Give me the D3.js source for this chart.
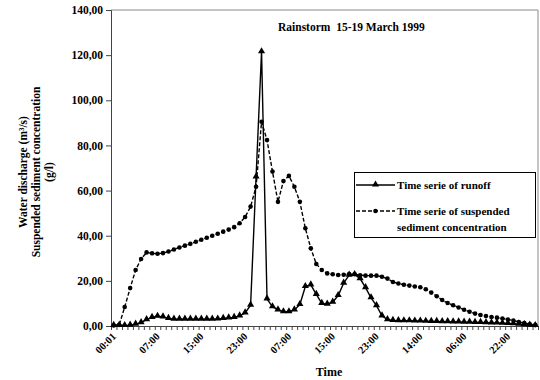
<!DOCTYPE html>
<html>
<head>
<meta charset="utf-8">
<script src="https://cdn.jsdelivr.net/npm/d3@7"></script>
<style>
  body { margin: 0; background: #fff; }
  svg text { font-family: "Liberation Serif", "Times New Roman", serif; font-weight: bold; fill: #000; }
</style>
</head>
<body>
<div id="chart"></div>
<script>
// chart size
var width = 540,
    height = 380;

var margin = {left: 111, top: 10, right: 2, bottom: 54};

// time of each sample (hourly, then every 2 hours)
var times = ["00:01","00:00","01:00","02:00","03:00","04:00","05:00","06:00","07:00","08:00",
  "09:00","10:00","11:00","12:00","13:00","14:00","15:00","16:00","17:00","18:00",
  "19:00","20:00","21:00","22:00","23:00","00:00","01:00","02:00","03:00","04:00",
  "05:00","06:00","07:00","08:00","09:00","10:00","11:00","12:00","13:00","14:00",
  "15:00","16:00","17:00","18:00","19:00","20:00","21:00","22:00","23:00","00:00",
  "02:00","04:00","06:00","08:00","10:00","12:00","14:00","16:00","18:00","20:00",
  "22:00","00:00","02:00","04:00","06:00","08:00","10:00","12:00","14:00","16:00",
  "18:00","20:00","22:00","00:00","02:00","04:00","06:00","08:00"];

// runoff, m3/s
var runoff = [0.3,0.3,0.2,0.4,0.8,1.5,2.8,3.8,4.3,4.0,
  3.4,3.0,3.0,3.0,3.0,3.0,3.0,3.0,3.0,3.1,
  3.4,3.6,3.8,4.5,5.8,9.2,66,121.5,12,8.5,
  7.1,6.3,6.3,7.1,9.5,17.5,18.2,14,10,9.7,
  10.6,13.5,19,22.5,22.8,21,17,12.5,9,4.5,
  2.8,2.5,2.4,2.3,2.3,2.2,2.2,2.1,2.0,2.0,
  1.9,1.9,1.8,1.8,1.7,1.7,1.6,1.6,1.5,1.4,
  1.3,1.2,1.1,1.0,0.8,0.6,0.4,0.2];

// suspended sediment concentration, g/l
var sediment = [0.2,0.5,8.4,16.8,24.8,29.7,32.6,32.2,32.0,32.3,
  33.0,33.9,34.8,35.6,36.4,37.3,38.2,39.1,40.0,40.9,
  41.8,42.7,43.8,45.5,48.3,52.9,61.7,90.5,82.4,68.4,
  55,64.2,66.5,61.7,55,43.3,34.4,27.5,24.8,23.3,
  22.9,22.6,22.7,23.0,22.9,22.5,22.3,22.3,22.3,21.8,
  21.0,19.5,18.8,18.3,17.9,17.5,17.2,16.3,14.8,13.2,
  11.5,10.2,9.2,8.2,7.2,6.3,5.5,4.9,4.4,4.0,
  3.7,3.3,2.9,2.4,1.8,1.3,0.8,0.4];

var yTicks = [0,20,40,60,80,100,120,140];
var labelEvery = 8;

var titleText = "Rainstorm  15-19 March 1999";
var yTitle = ["Water discharge (m³/s)", "Suspended sediment concentration", "(g/l)"];
var legendNames = ["Time serie of runoff", ["Time serie of suspended", "sediment concentration"]];

var svg = d3.select("#chart").append("svg")
  .attr("width", width)
  .attr("height", height);

var x0 = margin.left,
    x1 = width - margin.right,
    y0 = height - margin.bottom,
    y1 = margin.top;

var x = d3.scalePoint()
  .domain(d3.range(times.length))
  .range([x0, x1])
  .padding(0.5);

// category boundaries for the tick marks
var xEdge = d3.scaleLinear()
  .domain([0, times.length])
  .range([x0, x1]);

var y = d3.scaleLinear()
  .domain([0, 140])
  .range([y0, y1]);

var fmt = function(v) { return d3.format(".2f")(v).replace(".", ","); };

// plot area border (top / right)
svg.append("path")
  .attr("d", "M" + x0 + "," + y1 + "H" + x1 + "V" + y0)
  .attr("fill", "none")
  .attr("stroke", "#8a8a8a")
  .attr("stroke-width", 1);

// y axis
var yAxis = svg.append("g")
  .attr("transform", "translate(" + x0 + ",0)")
  .call(d3.axisLeft(y).tickValues(yTicks).tickFormat(fmt).tickSize(5).tickPadding(3));
yAxis.select(".domain").attr("stroke", "#444");
yAxis.selectAll(".tick line").attr("stroke", "#444");
yAxis.selectAll("text")
  .style("font-size", "11.5px")
  .style("font-family", "'Liberation Serif', serif")
  .style("font-weight", "bold");

// x axis
var xAxis = svg.append("g")
  .attr("transform", "translate(0," + y0 + ")")
  .call(d3.axisBottom(xEdge).tickValues(d3.range(times.length + 1)).tickFormat("").tickSize(4));
xAxis.select(".domain").attr("stroke", "#444");
xAxis.selectAll(".tick line").attr("stroke", "#444");

svg.append("g").selectAll("text")
  .data(d3.range(0, times.length, labelEvery))
  .enter().append("text")
  .attr("transform", function(i) { return "translate(" + (x(i) + 3) + "," + (y0 + 11) + ") rotate(-45)"; })
  .attr("text-anchor", "end")
  .style("font-size", "10.5px")
  .text(function(i) { return times[i]; });

// series lines
var line = function(vals) {
  return d3.line()
    .x(function(d, i) { return x(i); })
    .y(function(d) { return y(d); })(vals);
};

svg.append("path")
  .attr("d", line(sediment))
  .attr("fill", "none")
  .attr("stroke", "#000")
  .attr("stroke-width", 1.4)
  .attr("stroke-dasharray", "4,2");

svg.append("path")
  .attr("d", line(runoff))
  .attr("fill", "none")
  .attr("stroke", "#000")
  .attr("stroke-width", 1.4);

var tri = d3.symbol().type(d3.symbolTriangle).size(22);

svg.append("g").selectAll("circle")
  .data(sediment)
  .enter().append("circle")
  .attr("cx", function(d, i) { return x(i); })
  .attr("cy", function(d) { return y(d); })
  .attr("r", 2.3)
  .attr("fill", "#000");

svg.append("g").selectAll("path")
  .data(runoff)
  .enter().append("path")
  .attr("d", tri)
  .attr("transform", function(d, i) { return "translate(" + x(i) + "," + (y(d) - 0.5) + ")"; })
  .attr("fill", "#000");

// title
svg.append("text")
  .attr("x", 278)
  .attr("y", 31)
  .style("font-size", "11.5px")
  .style("white-space", "pre")
  .attr("xml:space", "preserve")
  .text(titleText);

// y title
yTitle.forEach(function(t, k) {
  svg.append("text")
    .attr("transform", "translate(" + (27 + k * 13) + ",172) rotate(-90)")
    .attr("text-anchor", "middle")
    .style("font-size", "11.5px")
    .text(t);
});

// x title
svg.append("text")
  .attr("x", 329)
  .attr("y", 376)
  .attr("text-anchor", "middle")
  .style("font-size", "12px")
  .text("Time");

// legend
var lg = svg.append("g");
lg.append("rect")
  .attr("x", 354.5).attr("y", 172.5)
  .attr("width", 181).attr("height", 65)
  .attr("fill", "#fff")
  .attr("stroke", "#000")
  .attr("stroke-width", 1);

lg.append("line")
  .attr("x1", 356).attr("x2", 395).attr("y1", 185).attr("y2", 185)
  .attr("stroke", "#000").attr("stroke-width", 1.4);
lg.append("path")
  .attr("d", tri)
  .attr("transform", "translate(375.5,184.5)");
lg.append("text")
  .attr("x", 397).attr("y", 189)
  .style("font-size", "11px")
  .text(legendNames[0]);

lg.append("line")
  .attr("x1", 356).attr("x2", 395).attr("y1", 211).attr("y2", 211)
  .attr("stroke", "#000").attr("stroke-width", 1.4)
  .attr("stroke-dasharray", "4,2");
lg.append("circle")
  .attr("cx", 375.5).attr("cy", 211).attr("r", 2.3);
legendNames[1].forEach(function(t, k) {
  lg.append("text")
    .attr("x", 397).attr("y", 215 + k * 16)
    .style("font-size", "11px")
    .text(t);
});
</script>
</body>
</html>
